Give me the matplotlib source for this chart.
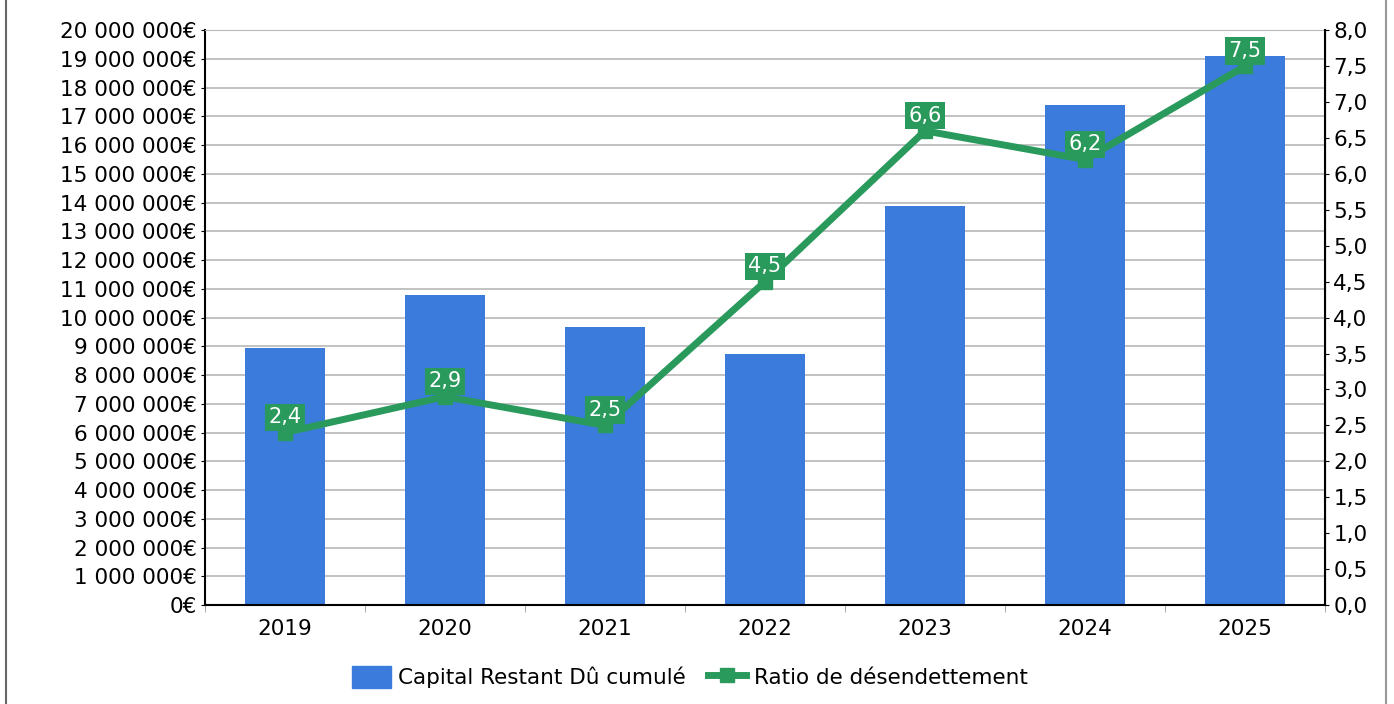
import matplotlib.pyplot as plt
from matplotlib.lines import Line2D
from matplotlib.ticker import FuncFormatter, MultipleLocator
import numpy as np

years = ["2019", "2020", "2021", "2022", "2023", "2024", "2025"]
capital = [8950000, 10780000, 9670000, 8730000, 13880000, 17390000, 19100000]
ratio = [2.4, 2.9, 2.5, 4.5, 6.6, 6.2, 7.5]

BAR_COLOR = "#3a7bdc"
LINE_COLOR = "#2a9a5c"
FS = 15.5


def euro(v, pos):
    return "{:,.0f}€".format(v).replace(",", " ")


def ratio_fmt(v, pos):
    return "{:.1f}".format(v).replace(".", ",")


fig = plt.figure(figsize=(13.94, 7.04), dpi=100)
ax = fig.add_axes([0.147, 0.1406, 0.8035, 0.8164])
x = np.arange(len(years))

ax.bar(x, capital, width=0.5, color=BAR_COLOR, zorder=2)
ax.set_xlim(-0.5, len(years) - 0.5)
ax.set_ylim(0, 20000000)
ax.yaxis.set_major_locator(MultipleLocator(1000000))
ax.yaxis.set_major_formatter(FuncFormatter(euro))
ax.grid(axis="y", color="#bdbdbd", linewidth=1.3, zorder=0)
ax.set_axisbelow(True)

ax.set_xticks(x)
ax.set_xticklabels(years, fontsize=FS)
ax.set_xticks(np.arange(len(years) + 1) - 0.5, minor=True)
ax.tick_params(axis="x", which="major", length=0, pad=10)
ax.tick_params(axis="x", which="minor", length=5, color="#999999")
ax.tick_params(axis="y", labelsize=FS, length=3, pad=3)

for side in ["left", "bottom"]:
    ax.spines[side].set_color("black")
    ax.spines[side].set_linewidth(1.5)
ax.spines["top"].set_color("#b8b8b8")

ax2 = ax.twinx()
ax2.plot(x, ratio, color=LINE_COLOR, linewidth=5, marker="s", markersize=10, zorder=3)
ax2.set_ylim(0, 8)
ax2.yaxis.set_major_locator(MultipleLocator(0.5))
ax2.yaxis.set_major_formatter(FuncFormatter(ratio_fmt))
ax2.tick_params(axis="y", labelsize=FS, length=3, pad=3)
ax2.spines["right"].set_color("black")
ax2.spines["right"].set_linewidth(1.5)
ax2.spines["top"].set_visible(False)
ax2.spines["left"].set_visible(False)
ax2.spines["bottom"].set_visible(False)

for xi, r in zip(x, ratio):
    ax2.annotate(ratio_fmt(r, None), (xi, r), xytext=(0, 11), textcoords="offset points",
                 ha="center", va="center", color="white", fontsize=15, zorder=4,
                 bbox=dict(boxstyle="square,pad=0.18", fc=LINE_COLOR, ec="none"))

handles = [
    plt.Rectangle((0, 0), 1, 1, color=BAR_COLOR),
    Line2D([0], [0], color=LINE_COLOR, linewidth=5, marker="s", markersize=10),
]
fig.legend(handles, ["Capital Restant Dû cumulé", "Ratio de désendettement"],
           loc="center", bbox_to_anchor=(0.495, 0.038), ncol=2, frameon=False,
           fontsize=FS, handlelength=1.8, handleheight=1.2, handletextpad=0.35,
           columnspacing=1.0)

# outer frame lines at the left and right edges
fig.add_artist(Line2D([0.004, 0.004], [0, 1], color="#666666", linewidth=1.5))
fig.add_artist(Line2D([0.994, 0.994], [0, 1], color="#999999", linewidth=1.5))

fig.savefig("out.png", dpi=100)
